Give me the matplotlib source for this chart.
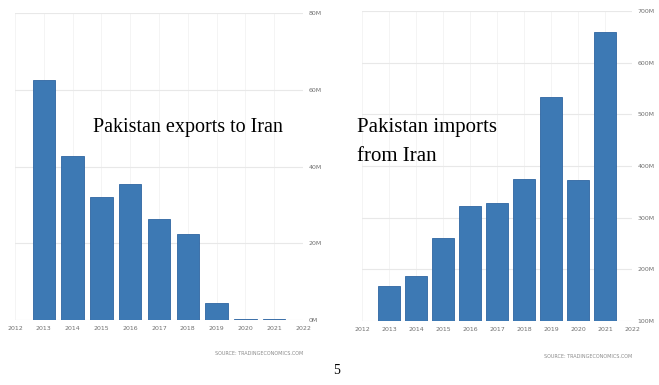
import matplotlib
matplotlib.use("Agg")
import matplotlib.pyplot as plt
import numpy as np

years = [2013, 2014, 2015, 2016, 2017, 2018, 2019, 2020, 2021]
exports = [62.6, 42.9, 32.2, 35.4, 26.3, 22.5, 4.4, 0.3, 0.3]        # USD million
imports = [168, 187, 261, 323, 328, 374, 533, 373, 659]             # USD million
year_ticks = list(range(2012, 2023))
exp_ticks = [0, 20, 40, 60, 80]
imp_ticks = [100, 200, 300, 400, 500, 600, 700]

bar_col = '#3d79b4'
edge_col = '#2e65a2'
grid_col = '#e8e8e8'
tick_col = '#707070'

fig = plt.figure(figsize=(6.59, 3.85), dpi=100)
fig.patch.set_facecolor('white')


def style(ax, yticks, ylim):
    ax.set_xlim(2012, 2022)
    ax.set_ylim(*ylim)
    ax.set_xticks(year_ticks)
    ax.set_xticklabels([str(y) for y in year_ticks], fontsize=4.5, color=tick_col)
    ax.set_yticks(yticks)
    ax.set_yticklabels([f'{t}M' for t in yticks], fontsize=4.5, color=tick_col)
    ax.yaxis.tick_right()
    ax.tick_params(length=0, pad=4)
    ax.grid(True, axis='y', color=grid_col, lw=0.8)
    ax.grid(True, axis='x', color='#f3f3f3', lw=0.6)
    ax.set_axisbelow(True)
    for s in ax.spines.values():
        s.set_visible(False)


# left: exports
ax1 = fig.add_axes([15 / 659, 65 / 385, 288 / 659, 306.7 / 385])
ax1.bar(years, exports, width=0.78, color=bar_col, edgecolor=edge_col, lw=0.6)
style(ax1, exp_ticks, (0, 80))
ax1.text(0.27, 0.613, 'Pakistan exports to Iran', transform=ax1.transAxes,
         family='Liberation Serif', fontsize=14.5, color='black')
ax1.text(1.0, -0.115, 'SOURCE: TRADINGECONOMICS.COM', transform=ax1.transAxes,
         fontsize=3.5, color='#8a8a8a', ha='right')

# right: imports
ax2 = fig.add_axes([362 / 659, 64 / 385, 270 / 659, 310 / 385])
ax2.bar(years, imports, width=0.8, color=bar_col, edgecolor=edge_col, lw=0.6)
style(ax2, imp_ticks, (100, 700))
ax2.text(-0.02, 0.656, 'Pakistan imports\nfrom Iran', transform=ax2.transAxes,
         family='Liberation Serif', fontsize=15, color='black', linespacing=1.72,
         va='top')
ax2.text(1.0, -0.12, 'SOURCE: TRADINGECONOMICS.COM', transform=ax2.transAxes,
         fontsize=3.5, color='#8a8a8a', ha='right')

fig.text(337 / 659, 1 - 370 / 385, '5', family='Liberation Serif', fontsize=10,
         ha='center', va='center')

fig.savefig('out.png', dpi=100)
